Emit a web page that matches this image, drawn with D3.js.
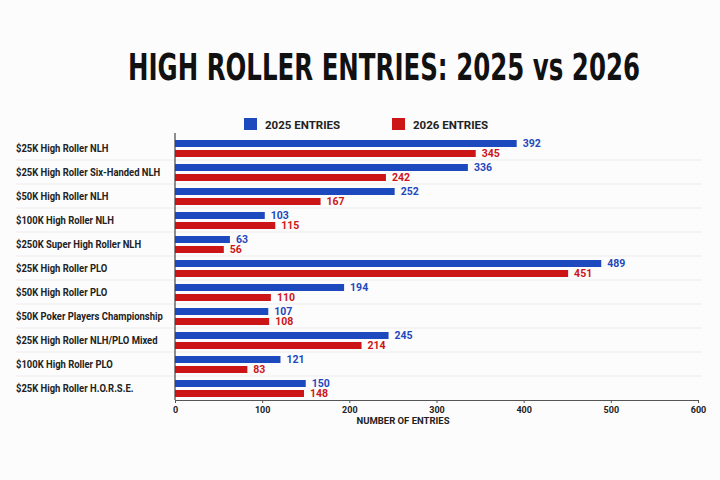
<!DOCTYPE html>
<html>
<head>
<meta charset="utf-8">
<script src="https://cdn.jsdelivr.net/npm/d3@7"></script>
<style>
  body { margin: 0; background: #fcfcfc; }
  svg { display: block; }
  .label { font-family: Roboto, "Noto Sans", sans-serif; font-weight: 700; font-size: 10.5px; fill: #222; }
  .value { font-family: Roboto, sans-serif; font-weight: 700; font-size: 10.5px; }
  .tick text { font-family: Roboto, sans-serif; font-weight: 700; font-size: 9px; fill: #222; }
</style>
</head>
<body>
<div id="chart"></div>
<script>
// data
const categories = [
  '$25K High Roller NLH',
  '$25K High Roller Six-Handed NLH',
  '$50K High Roller NLH',
  '$100K High Roller NLH',
  '$250K Super High Roller NLH',
  '$25K High Roller PLO',
  '$50K High Roller PLO',
  '$50K Poker Players Championship',
  '$25K High Roller NLH/PLO Mixed',
  '$100K High Roller PLO',
  '$25K High Roller H.O.R.S.E.'
];
const entries2025 = [392, 336, 252, 103, 63, 489, 194, 107, 245, 121, 150];
const entries2026 = [345, 242, 167, 115, 56, 451, 110, 108, 214, 83, 148];
const seriesNames = ['2025 ENTRIES', '2026 ENTRIES'];
const xTicks = [0, 100, 200, 300, 400, 500, 600];

const width = 720, height = 480;
const margin = {top: 136, right: 22, bottom: 80, left: 175};
const colors = ['#1c49bd', '#cc1517'];

const svg = d3.select('#chart').append('svg')
    .attr('width', width)
    .attr('height', height);

svg.append('rect').attr('width', width).attr('height', height).attr('fill', '#fcfcfc');

// title (squeezed to the width of the condensed original)
svg.append('text')
    .attr('x', 128).attr('y', 80)
    .attr('textLength', 512)
    .attr('lengthAdjust', 'spacingAndGlyphs')
    .style('font-family', '"DejaVu Sans", sans-serif')
    .style('font-stretch', 'condensed')
    .style('font-weight', 700)
    .style('font-size', '38px')
    .style('fill', '#111')
    .text('HIGH ROLLER ENTRIES: 2025 vs 2026');

const x = d3.scaleLinear([0, 600], [margin.left, width - margin.right]);
const y = d3.scaleBand(categories, [margin.top, height - margin.bottom]);

// legend
const legendX = [244, 392];
seriesNames.forEach((name, i) => {
    const g = svg.append('g').attr('transform', `translate(${legendX[i]},118)`);
    g.append('rect').attr('width', 13).attr('height', 12).attr('fill', colors[i]);
    g.append('text').attr('x', 21).attr('y', 11)
        .style('font-family', 'Roboto, sans-serif')
        .style('font-weight', 700)
        .style('font-size', '11.5px')
        .style('fill', '#222')
        .text(name);
});

// row separators
svg.append('g').selectAll('line')
    .data(categories.slice(1))
    .join('line')
    .attr('x1', 15).attr('x2', 702)
    .attr('y1', d => y(d)).attr('y2', d => y(d))
    .attr('stroke', '#ececec');

// category labels, narrowed horizontally
svg.append('g').selectAll('text')
    .data(categories)
    .join('text')
    .attr('class', 'label')
    .attr('transform', d => `translate(16,${y(d) + y.bandwidth() / 2 + 4}) scale(0.9,1)`)
    .text(d => d);

const barH = 7;
const series = [entries2025, entries2026];
const offsets = [4, 14];

series.forEach((vals, s) => {
    const g = svg.append('g');
    g.selectAll('rect')
        .data(vals)
        .join('rect')
        .attr('x', x(0))
        .attr('y', (d, i) => y(categories[i]) + offsets[s])
        .attr('width', d => x(d) - x(0))
        .attr('height', barH)
        .attr('fill', colors[s]);
    g.selectAll('text')
        .data(vals)
        .join('text')
        .attr('class', 'value')
        .attr('x', d => x(d) + 6)
        .attr('y', (d, i) => y(categories[i]) + offsets[s] + barH)
        .style('fill', colors[s])
        .text(d => d);
});

// axes
svg.append('line')
    .attr('x1', x(0)).attr('x2', x(0))
    .attr('y1', margin.top - 3).attr('y2', height - margin.bottom)
    .attr('stroke', '#444').attr('stroke-width', 1.2);

const axisX = svg.append('g')
    .attr('transform', `translate(0,${height - margin.bottom})`)
    .call(d3.axisBottom(x).tickValues(xTicks).tickSize(3).tickSizeOuter(0));
axisX.select('.domain').attr('stroke', '#555');
axisX.selectAll('.tick line').attr('stroke', '#555');
axisX.selectAll('.tick text').attr('dy', '0.75em');

svg.append('text')
    .attr('x', 403).attr('y', 424)
    .attr('text-anchor', 'middle')
    .style('font-family', 'Roboto, sans-serif')
    .style('font-weight', 700)
    .style('font-size', '9.5px')
    .style('fill', '#222')
    .text('NUMBER OF ENTRIES');
</script>
</body>
</html>
